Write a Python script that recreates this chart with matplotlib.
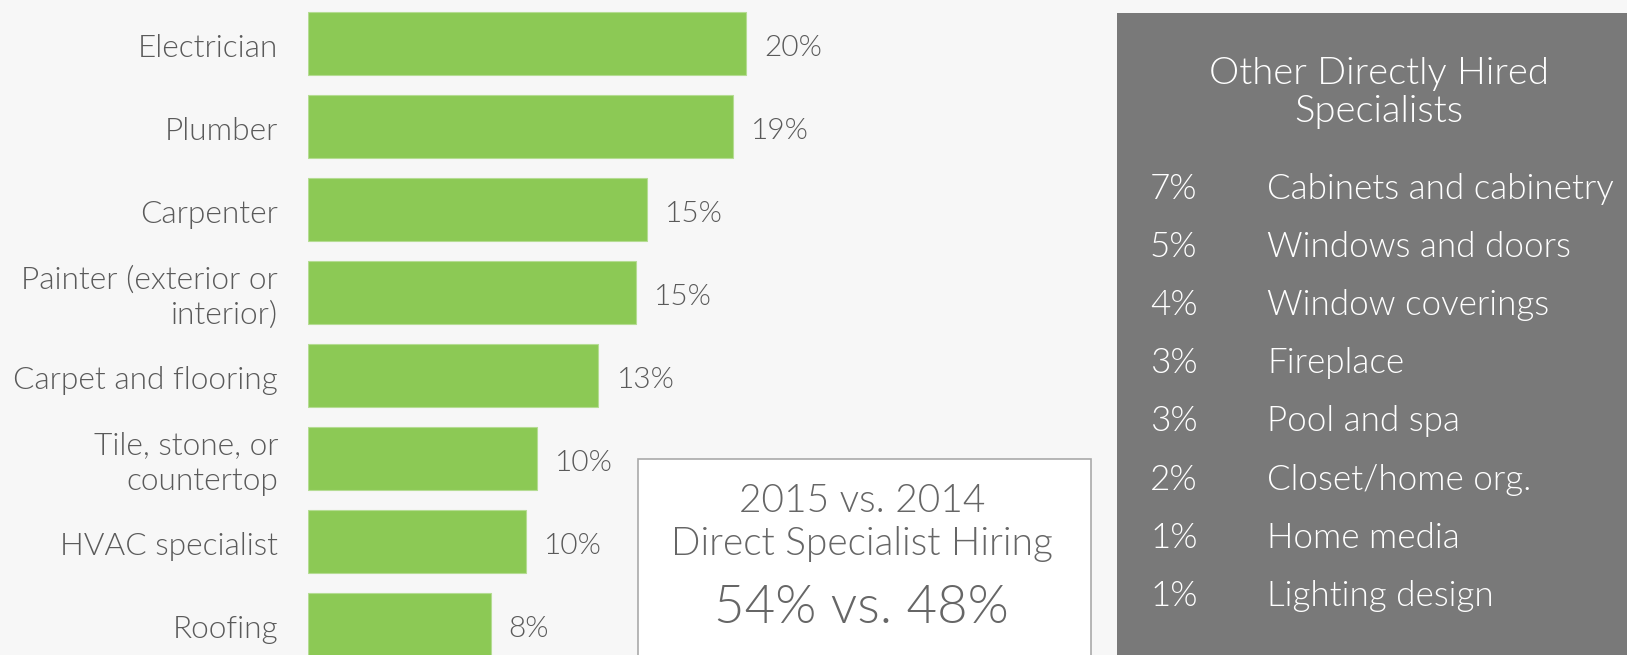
import matplotlib.pyplot as plt
from matplotlib.patches import Rectangle
from matplotlib.transforms import offset_copy

plt.rcParams['font.family'] = ['Lato', 'DejaVu Sans']
plt.rcParams['font.weight'] = 300

# main bars
trades = ['Electrician', 'Plumber', 'Carpenter', 'Painter (exterior or\ninterior)',
          'Carpet and flooring', 'Tile, stone, or\ncountertop', 'HVAC specialist', 'Roofing']
shares = [19.9, 19.3, 15.4, 14.9, 13.2, 10.4, 9.9, 8.3]

# side panel
other_pct = ['7%', '5%', '4%', '3%', '3%', '2%', '1%', '1%']
other_names = ['Cabinets and cabinetry', 'Windows and doors', 'Window coverings', 'Fireplace',
               'Pool and spa', 'Closet/home org.', 'Home media', 'Lighting design']

panel_title = 'Other Directly Hired\nSpecialists'
box_head = '2015 vs. 2014\nDirect Specialist Hiring'
box_value = '54% vs. 48%'

W, H = 1627, 655
bg = '#f7f7f7'
green = '#8cc955'
txt = '#5a5a5a'

fig = plt.figure(figsize=(W / 100, H / 100), dpi=100, facecolor=bg)

def fx(px):
    return px / W

def fy(py):
    return 1 - py / H

# bar axes: 0 at x=308px, 22px per percent point, row pitch 83px
ax = fig.add_axes([fx(308), 0, 22 * 40 / W, 1])
ax.set_xlim(0, 40)
ax.set_ylim((H - 43.6) / 83, -43.6 / 83)
ax.set_facecolor('none')
ypos = list(range(len(trades)))
ax.barh(ypos, shares, height=0.76, color=green, edgecolor='#b5dc93', linewidth=0.8)
for y, v in zip(ypos, shares):
    ax.annotate(f'{round(v)}%', (v, y), xytext=(13, -1.5), textcoords='offset points',
                ha='left', va='center_baseline', fontsize=21.5, color=txt)

# category labels, right aligned left of the bars
lab_tr = offset_copy(ax.get_yaxis_transform(), fig=fig, x=-30, y=-5, units='dots')
for y, name in zip(ypos, trades):
    ax.text(0, y, name, transform=lab_tr, ha='right', va='center', fontsize=22.8,
            color=txt, multialignment='right', linespacing=1.27)
ax.set_xticks([])
ax.set_yticks([])
for s in ax.spines.values():
    s.set_visible(False)

# right grey panel
fig.patches.append(Rectangle((fx(1117), 0), fx(W - 1117), fy(12.5), transform=fig.transFigure,
                             facecolor='#797979', edgecolor='none', zorder=0))
fig.text(fx(1379), fy(93), panel_title, ha='center', va='center', fontsize=27.5,
         color='white', linespacing=1.12)
for i, (p, n) in enumerate(zip(other_pct, other_names)):
    y = 186 + 58.1 * i
    fig.text(fx(1150), fy(y), p, ha='left', va='center_baseline', fontsize=25.2, color='white')
    fig.text(fx(1267), fy(y), n, ha='left', va='center_baseline', fontsize=25.2, color='white')

# comparison box
fig.patches.append(Rectangle((fx(637.5), fy(670)), fx(453), fy(459) - fy(670),
                             transform=fig.transFigure, facecolor='white',
                             edgecolor='#aaaaaa', linewidth=1.2, zorder=3))
fig.text(fx(862), fy(522.5), box_head, ha='center', va='center', fontsize=28,
         color='#666666', linespacing=1.25, zorder=4)
fig.text(fx(861), fy(604), box_value, ha='center', va='center_baseline', fontsize=38,
         color='#666666', zorder=4)

fig.savefig('out.png', dpi=100, facecolor=bg)
